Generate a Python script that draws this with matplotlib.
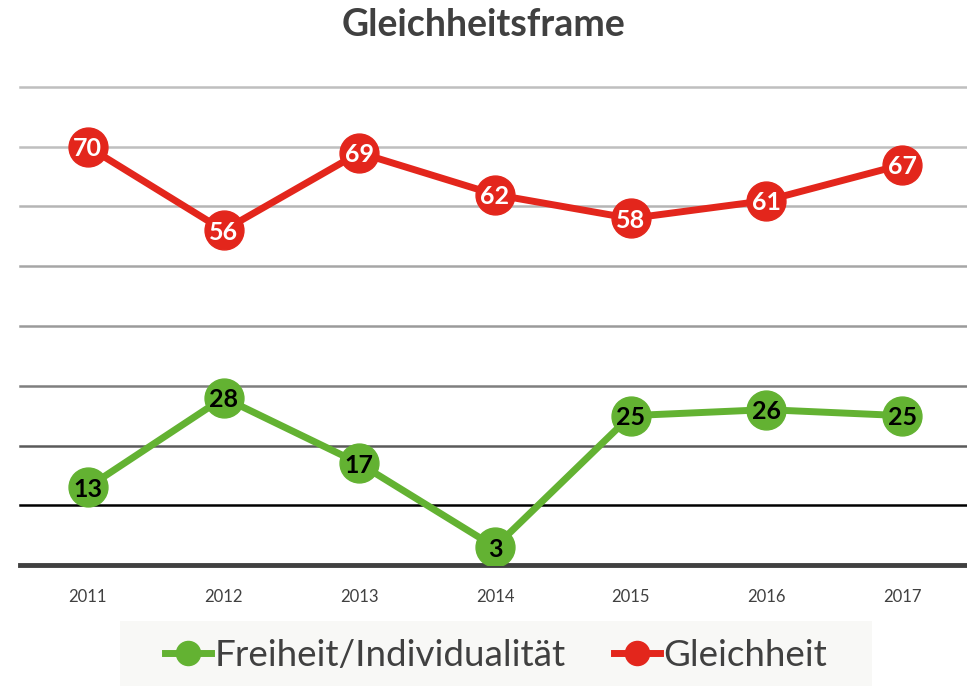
import matplotlib.pyplot as plt
import matplotlib.patches as mpatches
import numpy as np

# Years and series
years = ["2011", "2012", "2013", "2014", "2015", "2016", "2017"]
freiheit = [13, 28, 17, 3, 25, 26, 25]
gleichheit = [70, 56, 69, 62, 58, 61, 67]

green = "#63b232"
red = "#e3261c"
text_col = "#404040"

plt.rcParams['font.family'] = ['Lato', 'DejaVu Sans']

fig = plt.figure(figsize=(9.67, 6.86), dpi=100)
ax = fig.add_axes([20 / 967, 121 / 686, 950 / 967, 478 / 686])

x = np.arange(len(years))

# gridlines, darker toward the bottom
grid_cols = {10: "#000000", 20: "#5a5a5a", 30: "#7f7f7f", 40: "#9a9a9a",
             50: "#a6a6a6", 60: "#b5b5b5", 70: "#bfbfbf", 80: "#bfbfbf"}
for yv, c in grid_cols.items():
    ax.axhline(yv, color=c, lw=1.8, zorder=1, clip_on=False)
ax.axhline(0, color="#404040", lw=3.5, zorder=1, clip_on=False)

ax.plot(x, freiheit, color=green, lw=5, marker="o", ms=28,
        label="Freiheit/Individualität", zorder=3)
ax.plot(x, gleichheit, color=red, lw=5, marker="o", ms=28,
        label="Gleichheit", zorder=3)

for xi, v in zip(x, freiheit):
    ax.text(xi, v, str(v), ha="center", va="center_baseline", fontsize=18,
            fontweight="bold", color="black", zorder=4)
for xi, v in zip(x, gleichheit):
    ax.text(xi, v, str(v), ha="center", va="center_baseline", fontsize=18,
            fontweight="bold", color="white", zorder=4)

ax.set_xlim(-0.5, len(years) - 0.5)
ax.set_ylim(0, 80)
ax.set_xticks(x)
ax.set_xticklabels(years, fontsize=12, color=text_col)
ax.tick_params(axis="x", length=0, pad=17)
ax.set_yticks([])
for s in ax.spines.values():
    s.set_visible(False)

fig.text(0.5, 0.963, "Gleichheitsframe", ha="center", va="center",
         fontsize=27, fontweight="bold", color=text_col)

# legend background band
fig.patches.append(mpatches.Rectangle((120 / 967, 0), 752 / 967, 65 / 686,
                                      transform=fig.transFigure,
                                      facecolor="#f8f8f6", edgecolor="none",
                                      zorder=0))

leg = fig.legend(loc="center", bbox_to_anchor=(0.513, 0.044), ncol=2,
                 fontsize=26.5, frameon=False,
                 handlelength=1.25, handletextpad=0.1,
                 columnspacing=1.3, markerscale=0.62)
for t in leg.get_texts():
    t.set_color(text_col)

fig.savefig("out.png", dpi=100)
